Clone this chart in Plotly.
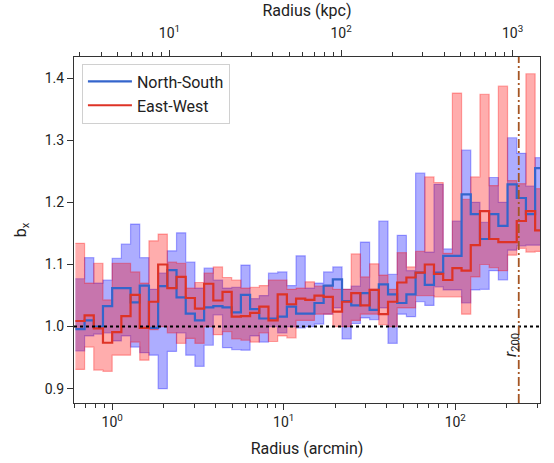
import numpy as np
import plotly.graph_objects as go

# Logarithmic radial bins (arcmin): bin k spans 10**(w*k) .. 10**(w*(k+1))
BIN_LOG_WIDTH = 0.0536
FIRST_BIN = -4
KPC_PER_ARCMIN = 4.634
R200_ARCMIN = 234.5

# North-South profile: step value and shaded band
ns_center = [0.996, 1.010, 1.000, 1.033, 1.062, 1.062, 1.039, 1.066, 0.998, 1.065,
             1.091, 1.047, 1.021, 1.010, 1.031, 1.033, 1.031, 1.023, 1.051, 1.028,
             1.013, 1.013, 1.016, 1.032, 1.021, 1.021, 1.038, 1.066, 1.076, 1.041,
             1.034, 1.054, 1.027, 1.068, 1.052, 1.038, 1.052, 1.087, 1.067, 1.087,
             1.114, 1.114, 1.213, 1.181, 1.141, 1.181, 1.162, 1.229, 1.207, 1.181,
             1.255]
ns_low = [0.961, 0.985, 0.988, 0.990, 0.977, 0.985, 0.967, 0.958, 0.954, 0.900,
          0.960, 0.990, 0.954, 0.936, 0.970, 1.019, 0.966, 0.963, 0.962, 0.985,
          0.975, 1.000, 0.990, 1.000, 0.998, 1.000, 1.004, 1.020, 1.030, 0.980,
          1.005, 1.014, 1.011, 1.030, 0.973, 1.020, 1.016, 1.040, 1.034, 1.064,
          1.059, 1.059, 1.038, 1.059, 1.060, 1.090, 1.075, 1.123, 1.130, 1.131,
          1.131]
ns_high = [1.077, 1.111, 1.070, 1.075, 1.110, 1.133, 1.165, 1.111, 1.060, 1.086,
           1.122, 1.151, 1.104, 1.062, 1.094, 1.075, 1.062, 1.063, 1.099, 1.045,
           1.050, 1.086, 1.088, 1.066, 1.114, 1.062, 1.070, 1.088, 1.096, 1.060,
           1.065, 1.136, 1.060, 1.170, 1.084, 1.147, 1.090, 1.247, 1.120, 1.229,
           1.125, 1.170, 1.284, 1.200, 1.168, 1.240, 1.200, 1.304, 1.279, 1.226,
           1.272]

# East-West profile: step value and shaded band
ew_center = [1.009, 1.018, 0.997, 0.974, 0.991, 1.017, 1.051, 0.998, 1.040, 1.100,
             1.062, 1.080, 1.046, 1.029, 1.069, 1.042, 1.056, 1.016, 1.017, 1.022,
             1.032, 1.010, 1.052, 1.036, 1.045, 1.043, 1.050, 1.048, 1.024, 1.040,
             1.054, 1.034, 1.059, 1.020, 1.040, 1.071, 1.079, 1.087, 1.100, 1.085,
             1.075, 1.094, 1.090, 1.131, 1.186, 1.141, 1.136, 1.136, 1.170, 1.186,
             1.155]
ew_low = [0.931, 0.967, 0.930, 0.928, 0.954, 0.954, 0.975, 0.946, 0.995, 1.000,
          0.990, 0.973, 0.981, 0.973, 1.000, 0.987, 0.992, 0.980, 0.978, 0.975,
          0.990, 0.976, 0.985, 0.982, 1.010, 1.010, 1.020, 1.020, 1.000, 1.000,
          1.010, 1.020, 1.020, 1.003, 1.000, 1.030, 1.030, 1.050, 1.050, 1.048,
          1.048, 1.048, 1.020, 1.080, 1.100, 1.095, 1.090, 1.115, 1.126, 1.120,
          1.121]
ew_high = [1.134, 1.070, 1.102, 1.043, 1.102, 1.102, 1.088, 1.070, 1.138, 1.149,
           1.104, 1.102, 1.062, 1.071, 1.086, 1.096, 1.079, 1.075, 1.062, 1.063,
           1.066, 1.075, 1.075, 1.060, 1.062, 1.072, 1.065, 1.065, 1.060, 1.060,
           1.117, 1.080, 1.101, 1.083, 1.060, 1.119, 1.096, 1.121, 1.241, 1.232,
           1.118, 1.376, 1.205, 1.241, 1.374, 1.227, 1.387, 1.235, 1.230, 1.407,
           1.222]

series_names = ["North-South", "East-West"]
line_colors = ["rgb(52,101,204)", "rgb(222,51,38)"]
band_colors = ["rgba(0,0,255,0.32)", "rgba(255,0,0,0.32)"]

edges = 10 ** (BIN_LOG_WIDTH * np.arange(FIRST_BIN, FIRST_BIN + len(ns_center) + 1))


def stepped(values):
    return list(values) + [values[-1]]


fig = go.Figure()

# shaded bands first so both step lines sit on top
for low, high, color in [(ns_low, ns_high, band_colors[0]), (ew_low, ew_high, band_colors[1])]:
    fig.add_trace(go.Scatter(x=edges, y=stepped(high), mode="lines", line_shape="hv",
                             line=dict(color=color, width=1.2), showlegend=False,
                             hoverinfo="skip"))
    fig.add_trace(go.Scatter(x=edges, y=stepped(low), mode="lines", line_shape="hv",
                             line=dict(color=color, width=1.2), fill="tonexty",
                             fillcolor=color, showlegend=False, hoverinfo="skip"))

for center, name, color in [(ns_center, series_names[0], line_colors[0]),
                            (ew_center, series_names[1], line_colors[1])]:
    fig.add_trace(go.Scatter(x=edges, y=stepped(center), mode="lines", line_shape="hv",
                             line=dict(color=color, width=2.2), name=name))

# companion trace that carries the physical-radius axis on top
fig.add_trace(go.Scatter(x=edges * KPC_PER_ARCMIN, y=stepped(ns_center), xaxis="x2",
                         mode="lines", line=dict(width=0), opacity=0,
                         showlegend=False, hoverinfo="skip"))

fig.add_hline(y=1.0, line=dict(color="black", width=2, dash="dot"))
fig.add_shape(type="line", xref="x", yref="paper", x0=R200_ARCMIN, x1=R200_ARCMIN,
              y0=0, y1=1,
              line=dict(color="rgb(165,85,35)", width=1.8, dash="9px,3px,2px,3px"))
fig.add_annotation(x=np.log10(R200_ARCMIN), y=0.97, text="<i>r</i><sub>200</sub>",
                   textangle=-90, showarrow=False, xshift=-8,
                   font=dict(size=16, color="#222"))

x_range = [-0.2225, 2.494]
axis_line = dict(showline=True, linecolor="#333", linewidth=1.2, ticks="outside",
                 tickcolor="#333", ticklen=6, tickwidth=1.1, automargin=False,
                 tickfont=dict(size=14, color="#222"), showgrid=False, zeroline=False)

arcmin_minor = [m * 10.0 ** d for d in range(-1, 3) for m in range(2, 10)]
kpc_minor = [m * 10.0 ** d for d in range(0, 4) for m in range(2, 10)]

fig.update_layout(
    width=554, height=463,
    margin=dict(l=74, r=14, t=57, b=60),
    paper_bgcolor="white", plot_bgcolor="white",
    font=dict(family="Roboto", color="#222"),
    xaxis=dict(type="log", range=x_range, mirror=True,
               tickvals=[1, 10, 100],
               ticktext=["10<sup>0</sup>", "10<sup>1</sup>", "10<sup>2</sup>"],
               minor=dict(tickvals=arcmin_minor, ticks="outside", ticklen=3.5,
                          tickcolor="#333", tickwidth=1),
               title=dict(text="Radius (arcmin)", font=dict(size=16), standoff=13),
               **axis_line),
    xaxis2=dict(type="log", overlaying="x", side="top", anchor="y",
                range=[x_range[0] + np.log10(KPC_PER_ARCMIN),
                       x_range[1] + np.log10(KPC_PER_ARCMIN)],
                tickvals=[10, 100, 1000],
                ticktext=["10<sup>1</sup>", "10<sup>2</sup>", "10<sup>3</sup>"],
                ticklabelstandoff=6,
                minor=dict(tickvals=kpc_minor, ticks="outside", ticklen=3.5,
                           tickcolor="#333", tickwidth=1),
                title=dict(text="Radius (kpc)", font=dict(size=16), standoff=2),
                **axis_line),
    yaxis=dict(range=[0.877, 1.434], mirror=True, tick0=0.9, dtick=0.1,
               tickformat=".1f",
               title=dict(text="b<sub>x</sub>", font=dict(size=16), standoff=14),
               **axis_line),
    legend=dict(x=0.017, y=0.981, xanchor="left", yanchor="top", traceorder="normal",
                bgcolor="rgba(255,255,255,0.85)", bordercolor="#d0d0d0",
                borderwidth=1, font=dict(size=16, color="#222"), itemwidth=44),
    showlegend=True,
)

fig.write_html("out.html")
